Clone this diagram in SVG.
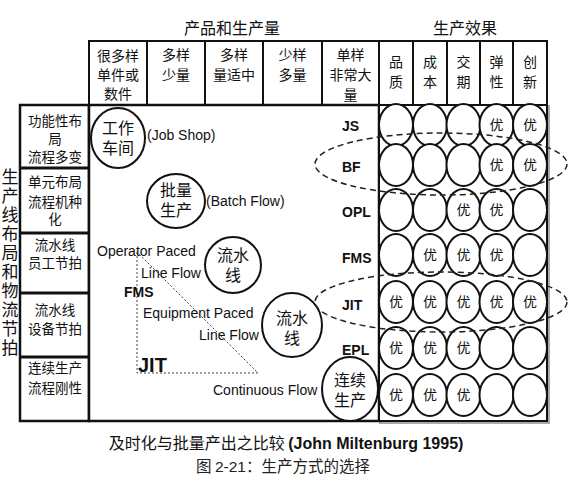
<svg xmlns="http://www.w3.org/2000/svg" width="570" height="484" viewBox="0 0 570 484">
<style>
.cn{font-family:"Noto Sans CJK SC","Noto Sans",sans-serif;fill:#111;text-anchor:middle}
.en{font-family:"Liberation Sans",Arial,sans-serif;fill:#111}
.b{font-weight:bold}
.h{font-size:14px}
.l{font-size:13.5px}
.c{font-size:16px}
.cell{fill:#fff;stroke:#111;stroke-width:2}
.o{fill:#fff;stroke:#111;stroke-width:2}
.dash{fill:none;stroke:#222;stroke-width:1.5;stroke-dasharray:6 4}
.dot{fill:none;stroke:#444;stroke-width:1;stroke-dasharray:2 2}
</style>
<rect width="570" height="484" fill="#fff"/>
<!-- titles -->
<text class="cn" x="232" y="34" font-size="16">产品和生产量</text>
<text class="cn" x="465" y="34" font-size="16">生产效果</text>
<!-- header cells -->
<g id="header">
<rect class="cell" x="89" y="41" width="58" height="64"/>
<rect class="cell" x="147" y="41" width="58" height="64"/>
<rect class="cell" x="205" y="41" width="58" height="64"/>
<rect class="cell" x="263" y="41" width="59" height="64"/>
<rect class="cell" x="322" y="41" width="57" height="64"/>
<rect class="cell" x="379" y="41" width="34" height="64"/>
<rect class="cell" x="413" y="41" width="34" height="64"/>
<rect class="cell" x="447" y="41" width="33" height="64"/>
<rect class="cell" x="480" y="41" width="33" height="64"/>
<rect class="cell" x="513" y="41" width="34" height="64"/>
<text class="cn h"><tspan x="118" y="61">很多样</tspan><tspan x="118" y="80">单件或</tspan><tspan x="118" y="99">数件</tspan></text>
<text class="cn h"><tspan x="176" y="60">多样</tspan><tspan x="176" y="80">少量</tspan></text>
<text class="cn h"><tspan x="234" y="60">多样</tspan><tspan x="234" y="80">量适中</tspan></text>
<text class="cn h"><tspan x="292.5" y="60">少样</tspan><tspan x="292.5" y="80">多量</tspan></text>
<text class="cn h"><tspan x="350.5" y="60">单样</tspan><tspan x="350.5" y="80">非常大</tspan><tspan x="350.5" y="100">量</tspan></text>
<text class="cn h"><tspan x="396" y="67">品</tspan><tspan x="396" y="87">质</tspan></text>
<text class="cn h"><tspan x="430" y="67">成</tspan><tspan x="430" y="87">本</tspan></text>
<text class="cn h"><tspan x="463.5" y="67">交</tspan><tspan x="463.5" y="87">期</tspan></text>
<text class="cn h"><tspan x="496.5" y="67">弹</tspan><tspan x="496.5" y="87">性</tspan></text>
<text class="cn h"><tspan x="530" y="67">创</tspan><tspan x="530" y="87">新</tspan></text>
</g>
<!-- shadow of right grid -->
<rect x="547" y="105" width="3" height="319" fill="#aaa"/>
<rect x="379" y="421" width="171" height="3" fill="#aaa"/>
<!-- left column -->
<g id="left-rows">
<rect x="20" y="105" width="69" height="316" fill="#fff" stroke="#111" stroke-width="2.5"/>
<line x1="20" y1="168" x2="89" y2="168" stroke="#111" stroke-width="3"/>
<line x1="20" y1="233" x2="89" y2="233" stroke="#111" stroke-width="3"/>
<line x1="20" y1="293" x2="89" y2="293" stroke="#111" stroke-width="3"/>
<line x1="20" y1="357" x2="89" y2="357" stroke="#111" stroke-width="3"/>
<text class="cn l"><tspan x="55" y="126">功能性布</tspan><tspan x="55" y="144">局</tspan><tspan x="55" y="162">流程多变</tspan></text>
<text class="cn l"><tspan x="55" y="187">单元布局</tspan><tspan x="55" y="207">流程机种</tspan><tspan x="55" y="224">化</tspan></text>
<text class="cn l"><tspan x="55" y="250">流水线</tspan><tspan x="55" y="268">员工节拍</tspan></text>
<text class="cn l"><tspan x="55" y="315">流水线</tspan><tspan x="55" y="334">设备节拍</tspan></text>
<text class="cn l"><tspan x="55" y="373">连续生产</tspan><tspan x="55" y="393">流程刚性</tspan></text>
</g>
<g id="side-title">
<text x="10" y="168" font-family="Noto Sans CJK SC, sans-serif" font-size="17" fill="#111" writing-mode="vertical-rl" letter-spacing="2">生产线布局和物流节拍</text>
</g>
<!-- main frame -->
<rect x="89" y="105" width="290" height="316" fill="#fff" stroke="#111" stroke-width="2.5"/>
<rect x="379" y="105" width="168" height="316" fill="#fff" stroke="#111" stroke-width="2"/>
<!-- connectors: dotted triangle -->
<g id="connectors">
<polygon class="dot" points="137,252 137,373 258,373"/>
</g>
<!-- middle text -->
<g id="middle-labels" class="en" font-size="14">
<text x="147" y="140">(Job Shop)</text>
<text x="206" y="206">(Batch Flow)</text>
<text x="97" y="256">Operator Paced</text>
<text x="141" y="278">Line Flow</text>
<text x="124" y="297" class="b">FMS</text>
<text x="143" y="318">Equipment Paced</text>
<text x="199" y="340">Line Flow</text>
<text x="138" y="372" class="b" font-size="20">JIT</text>
<text x="213" y="395">Continuous Flow</text>
</g>
<g id="node-jobshop"><ellipse class="o" cx="118" cy="138" rx="27" ry="30"/><text class="cn c"><tspan x="118" y="134">工作</tspan><tspan x="118" y="154">车间</tspan></text></g>
<g id="node-batch"><ellipse class="o" cx="176" cy="201" rx="29" ry="27"/><text class="cn c"><tspan x="176" y="196">批量</tspan><tspan x="176" y="216">生产</tspan></text></g>
<g id="node-line1"><ellipse class="o" cx="233" cy="265" rx="28" ry="28"/><text class="cn c"><tspan x="233" y="261">流水</tspan><tspan x="233" y="281">线</tspan></text></g>
<g id="node-line2"><ellipse class="o" cx="292" cy="325" rx="30" ry="32"/><text class="cn c"><tspan x="292" y="324">流水</tspan><tspan x="292" y="344">线</tspan></text></g>
<g id="node-cont"><ellipse class="o" cx="350" cy="389" rx="28" ry="32"/><text class="cn c"><tspan x="350" y="386">连续</tspan><tspan x="350" y="406">生产</tspan></text></g>
<!-- row labels -->
<g id="row-labels" class="en b" font-size="14">
<text x="342" y="131">JS</text>
<text x="342" y="172">BF</text>
<text x="342" y="217">OPL</text>
<text x="342" y="263">FMS</text>
<text x="342" y="310">JIT</text>
<text x="342" y="355">EPL</text>
</g>
<!-- grid circles -->
<g id="grid">
<g class="o">
<ellipse cx="396" cy="125" rx="17" ry="21"/><ellipse cx="430" cy="125" rx="17" ry="21"/><ellipse cx="463.5" cy="125" rx="17" ry="21"/><ellipse cx="496.5" cy="125" rx="17" ry="21"/><ellipse cx="530" cy="125" rx="17" ry="21"/>
<ellipse cx="396" cy="165" rx="17" ry="21"/><ellipse cx="430" cy="165" rx="17" ry="21"/><ellipse cx="463.5" cy="165" rx="17" ry="21"/><ellipse cx="496.5" cy="165" rx="17" ry="21"/><ellipse cx="530" cy="165" rx="17" ry="21"/>
<ellipse cx="396" cy="210" rx="17" ry="21"/><ellipse cx="430" cy="210" rx="17" ry="21"/><ellipse cx="463.5" cy="210" rx="17" ry="21"/><ellipse cx="496.5" cy="210" rx="17" ry="21"/><ellipse cx="530" cy="210" rx="17" ry="21"/>
<ellipse cx="396" cy="255" rx="17" ry="21"/><ellipse cx="430" cy="255" rx="17" ry="21"/><ellipse cx="463.5" cy="255" rx="17" ry="21"/><ellipse cx="496.5" cy="255" rx="17" ry="21"/><ellipse cx="530" cy="255" rx="17" ry="21"/>
<ellipse cx="396" cy="302" rx="17" ry="21"/><ellipse cx="430" cy="302" rx="17" ry="21"/><ellipse cx="463.5" cy="302" rx="17" ry="21"/><ellipse cx="496.5" cy="302" rx="17" ry="21"/><ellipse cx="530" cy="302" rx="17" ry="21"/>
<ellipse cx="396" cy="348" rx="17" ry="21"/><ellipse cx="430" cy="348" rx="17" ry="21"/><ellipse cx="463.5" cy="348" rx="17" ry="21"/><ellipse cx="496.5" cy="348" rx="17" ry="21"/><ellipse cx="530" cy="348" rx="17" ry="21"/>
<ellipse cx="396" cy="395" rx="17" ry="21"/><ellipse cx="430" cy="395" rx="17" ry="21"/><ellipse cx="463.5" cy="395" rx="17" ry="21"/><ellipse cx="496.5" cy="395" rx="17" ry="21"/><ellipse cx="530" cy="395" rx="17" ry="21"/>
</g>
<g class="cn" font-size="14">
<text x="496.5" y="130">优</text><text x="530" y="130">优</text>
<text x="496.5" y="170">优</text><text x="530" y="170">优</text>
<text x="463.5" y="215">优</text><text x="496.5" y="215">优</text>
<text x="430" y="260">优</text><text x="463.5" y="260">优</text><text x="496.5" y="260">优</text>
<text x="396" y="307">优</text><text x="430" y="307">优</text><text x="463.5" y="307">优</text><text x="496.5" y="307">优</text><text x="530" y="307">优</text>
<text x="396" y="353">优</text><text x="430" y="353">优</text><text x="463.5" y="353">优</text>
<text x="396" y="400">优</text><text x="430" y="400">优</text><text x="463.5" y="400">优</text>
</g>
</g>
<!-- dashed groupings -->
<g id="groupings">
<ellipse class="dash" cx="441" cy="164" rx="126" ry="31"/>
<ellipse class="dash" cx="441" cy="302" rx="126" ry="30"/>
</g>
<!-- bottom captions -->
<text x="286" y="449" text-anchor="middle" font-size="16"><tspan font-family="Noto Sans CJK SC, sans-serif" fill="#111">及时化与批量产出之比较 </tspan><tspan font-family="Liberation Sans, Arial, sans-serif" font-weight="bold" fill="#111">(John Miltenburg 1995)</tspan></text>
<text x="283" y="472" text-anchor="middle" font-size="15.5" fill="#222"><tspan font-family="Noto Sans CJK SC, sans-serif">图 </tspan><tspan font-family="Liberation Sans, Arial, sans-serif">2-21</tspan><tspan font-family="Noto Sans CJK SC, sans-serif">：生产方式的选择</tspan></text>
</svg>
